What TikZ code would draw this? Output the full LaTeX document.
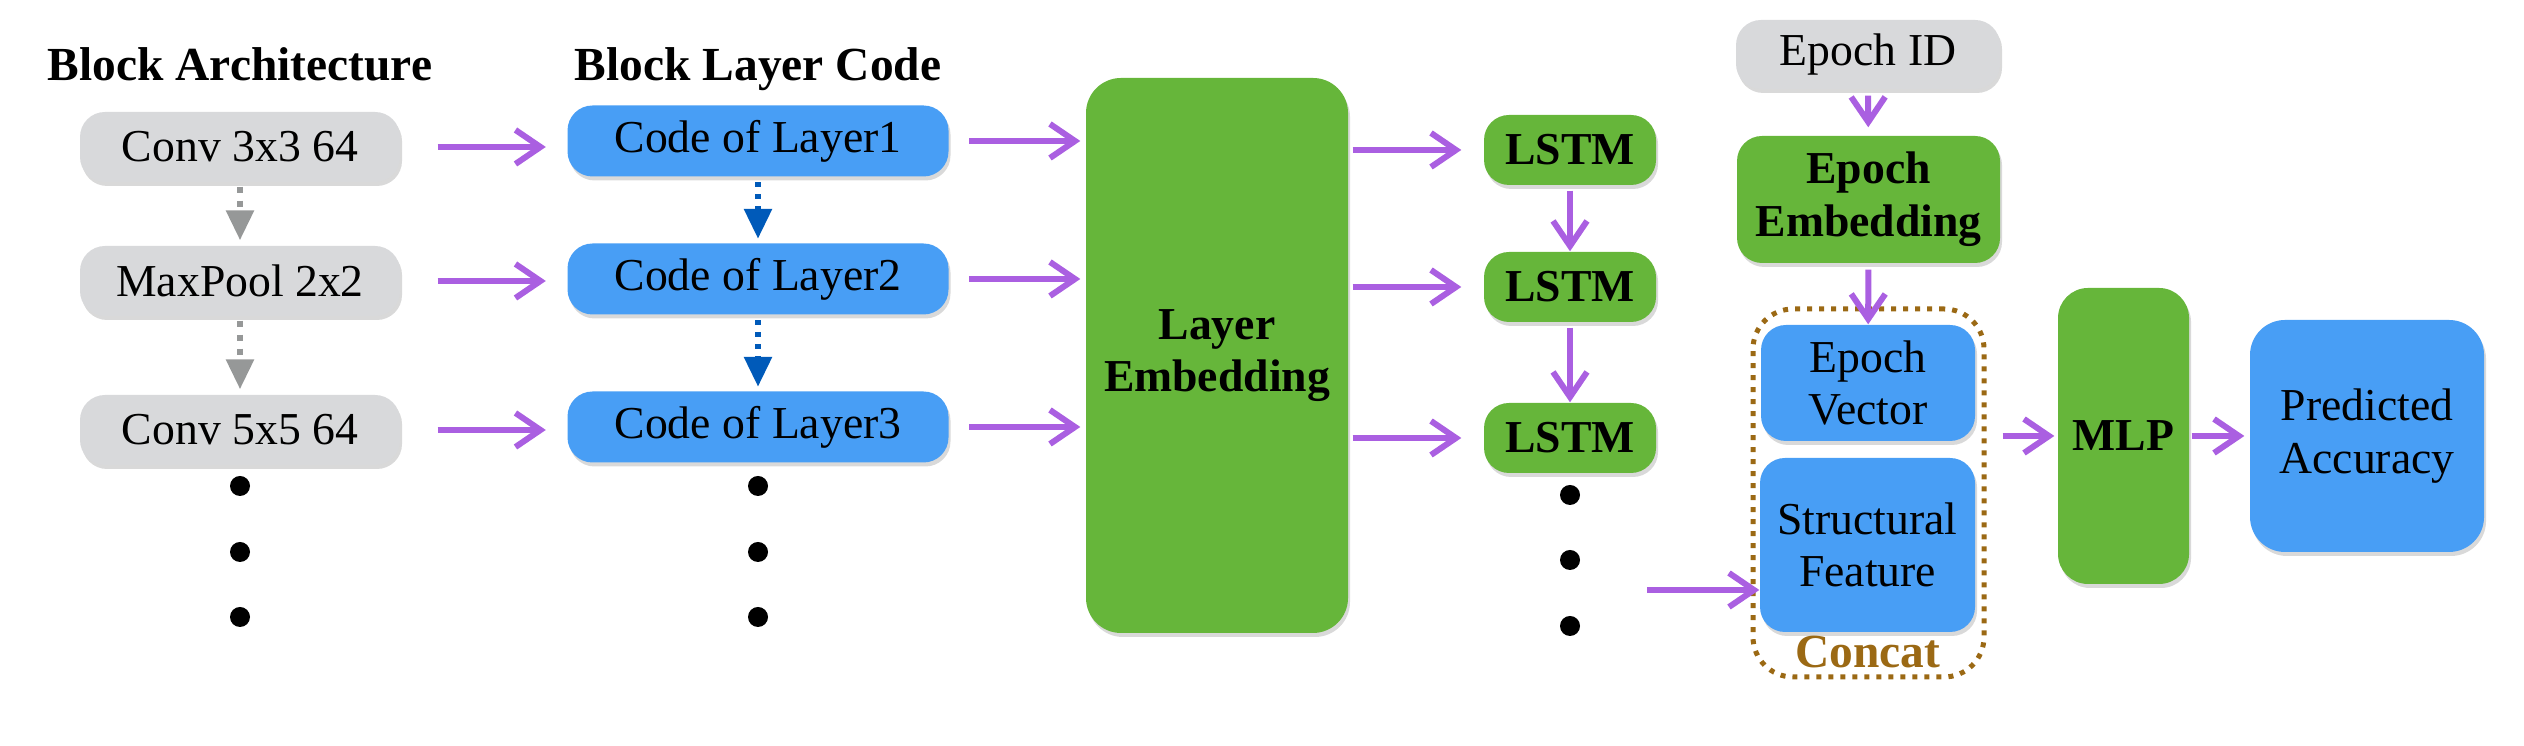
\documentclass[tikz,border=0pt]{standalone}
\usepackage{fontspec}
\setmainfont{Liberation Serif}
\definecolor{ArchGray}{RGB}{216, 217, 219}
\definecolor{CodeBlue}{RGB}{72, 158, 245}
\definecolor{EmbGreen}{RGB}{102, 182, 58}
\definecolor{FlowPurple}{RGB}{170, 95, 225}
\definecolor{DeepBlue}{RGB}{0, 90, 185}
\definecolor{ArrGray}{RGB}{150, 152, 152}
\definecolor{ConcatBrown}{RGB}{155, 105, 20}
\usetikzlibrary{arrows.meta, positioning, shadows}

\begin{document}
\begin{tikzpicture}[
    every node/.style={font=\fontsize{13}{15}\selectfont, align=center, inner sep=0pt},
    base/.style={rounded corners=0.25cm,
                 drop shadow={shadow xshift=0.02cm, shadow yshift=-0.04cm, opacity=0.3}},
    arch/.style={base, fill=ArchGray, minimum width=3.2cm, minimum height=0.7cm},
    code/.style={base, fill=CodeBlue, minimum width=3.81cm, minimum height=0.71cm},
    emb/.style={base, fill=EmbGreen, font=\fontsize{13}{15}\selectfont\bfseries},
    lstm/.style={emb, minimum width=1.72cm, minimum height=0.7cm},
    vec/.style={base, fill=CodeBlue},
    title/.style={anchor=base, font=\fontsize{13.5}{15}\selectfont\bfseries},
    dot/.style={circle, fill=black, minimum size=0.2cm},
    flow/.style={-{Straight Barb[length=0.25cm, width=0.34cm]}, FlowPurple, line width=0.06cm},
    seq/.style={-{Triangle[length=0.3cm, width=0.27cm]}, line width=0.06cm}
]
\useasboundingbox (0,0) rectangle (25.24,7.46);

% titles
\node[title] (archT) at (2.40,6.65) {Block Architecture};
\node[title] (codeT) at (7.58,6.65) {Block Layer Code};

% block architecture
\node[arch] (a1) at (2.40,5.99) {Conv 3x3 64};
\node[arch] (a2) at (2.40,4.65) {MaxPool 2x2};
\node[arch] (a3) at (2.40,3.16) {Conv 5x5 64};

% layer codes
\node[code] (c1) at (7.58,6.05) {Code of Layer1};
\node[code] (c2) at (7.58,4.67) {Code of Layer2};
\node[code] (c3) at (7.58,3.19) {Code of Layer3};

\foreach \y [count=\i] in {2.60,1.94,1.29} {
  \node[dot] (ad\i) at (2.40,\y) {};
  \node[dot] (cd\i) at (7.58,\y) {};
}

% layer embedding and LSTMs
\node[emb, minimum width=2.62cm, minimum height=5.55cm, rounded corners=0.35cm] (lemb) at (12.17,3.905) {Layer\\Embedding};

\node[lstm] (l1) at (15.70,5.96) {LSTM};
\node[lstm] (l2) at (15.70,4.59) {LSTM};
\node[lstm] (l3) at (15.70,3.08) {LSTM};

\foreach \y [count=\i] in {2.51,1.86,1.20} {
  \node[dot] (ld\i) at (15.70,\y) {};
}

% epoch branch
\node[arch, minimum width=2.64cm, minimum height=0.69cm] (eid) at (18.68,6.915) {Epoch ID};
\node[emb, minimum width=2.63cm, minimum height=1.27cm] (eemb) at (18.685,5.465) {Epoch\\Embedding};
\node[draw=ConcatBrown, line width=0.05cm, dash pattern=on 0.05cm off 0.07cm, rounded corners=0.4cm,
      minimum width=2.31cm, minimum height=3.68cm] (cat) at (18.685,2.53) {};
\node[vec, minimum width=2.14cm, minimum height=1.16cm] (evec) at (18.68,3.63) {Epoch\\Vector};
\node[vec, minimum width=2.15cm, minimum height=1.74cm] (sfeat) at (18.675,2.01) {Structural\\Feature};
\node[font=\fontsize{13.5}{15}\selectfont\bfseries, text=ConcatBrown] (catT) at (18.68,0.94) {Concat};

% head
\node[emb, minimum width=1.31cm, minimum height=2.96cm, rounded corners=0.3cm] (mlp) at (21.235,3.10) {MLP};
\node[vec, minimum width=2.34cm, minimum height=2.32cm, rounded corners=0.35cm] (pred) at (23.67,3.10) {Predicted\\Accuracy};

% connectors
\foreach \i in {1,2,3} {
  \draw[flow, shorten <=0.37cm, shorten >=0.21cm] (a\i.east) -- (a\i.east -| c\i.west);
  \draw[flow, shorten <=0.20cm, shorten >=0.05cm] (c\i.east) -- (c\i.east -| lemb.west);
  \draw[flow, shorten <=0.04cm, shorten >=0.22cm] (l\i.west -| lemb.east) -- (l\i.west);
}
\draw[seq, ArrGray, dash pattern=on 0.06cm off 0.08cm, shorten <=0.04cm, shorten >=0.05cm] (a1) -- (a2);
\draw[seq, ArrGray, dash pattern=on 0.06cm off 0.08cm, shorten <=0.04cm, shorten >=0.05cm] (a2) -- (a3);
\draw[seq, DeepBlue, dash pattern=on 0.05cm off 0.07cm, shorten <=0.05cm, shorten >=0.04cm] (c1) -- (c2);
\draw[seq, DeepBlue, dash pattern=on 0.05cm off 0.07cm, shorten <=0.05cm, shorten >=0.04cm] (c2) -- (c3);
\draw[flow, shorten <=0.05cm] (l1) -- (l2);
\draw[flow, shorten <=0.05cm] (l2) -- (l3);

\draw[flow, shorten <=0.06cm, shorten >=0.08cm] (eid) -- (eemb);
\draw[flow, shorten <=0.06cm] (eemb) -- (evec);

\coordinate (lstmOut) at (16.47,1.56);
\draw[flow] (lstmOut) -- (lstmOut -| sfeat.west);

\draw[flow, shorten <=0.16cm, shorten >=0.03cm] (mlp.west -| cat.east) -- (mlp.west);
\draw[flow, shorten <=0.02cm, shorten >=0.05cm] (mlp) -- (pred);
\end{tikzpicture}
\end{document}
